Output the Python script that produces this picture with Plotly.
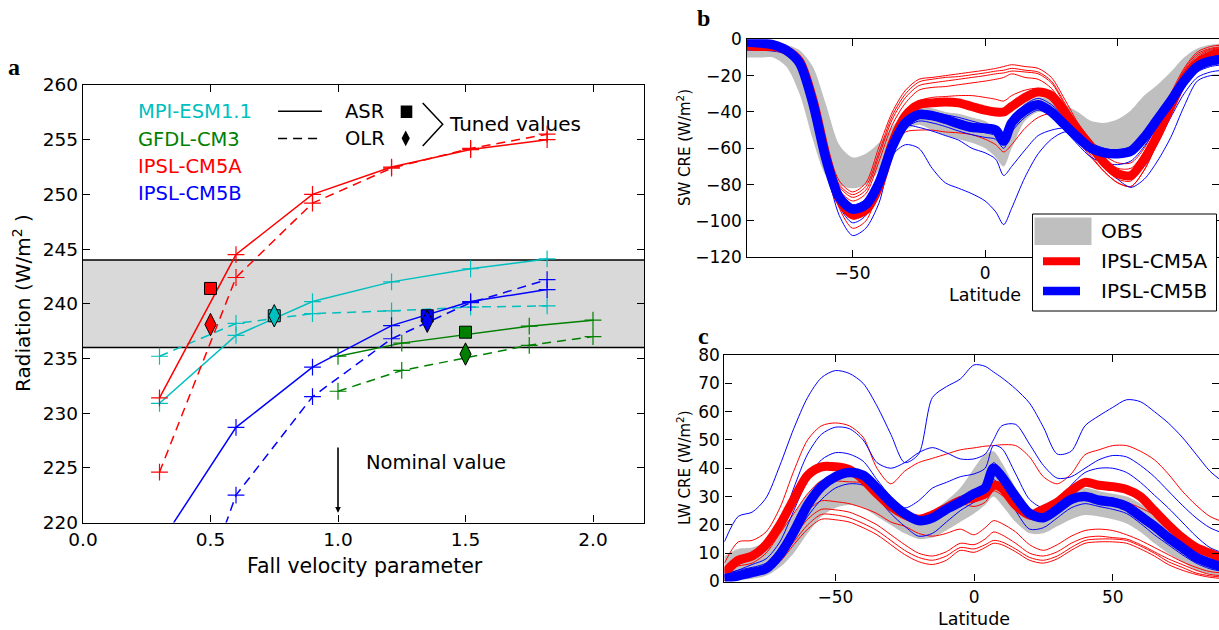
import plotly.graph_objects as go

W, H = 1219, 630
FONT = "DejaVu Sans"
RED, BLUE, CYAN, GREEN = "#ff0000", "#0000ff", "#00bfbf", "#008000"
GREY_B = "#bfbfbf"
GREY_A = "#d9d9d9"

# ---------------- panel a data ----------------
fv_ipsl = [0.3, 0.6, 0.9, 1.21, 1.52, 1.82]
cm5a_asr = [231.4, 244.5, 250.0, 252.5, 254.1, 255.0]
cm5a_olr = [224.6, 242.4, 249.2, 252.4, 254.2, 255.5]
cm5b_asr = [218.0, 228.7, 234.2, 238.0, 240.2, 241.3]
cm5b_olr = [203.0, 222.5, 231.5, 236.8, 240.1, 242.2]
fv_mpi = [0.3, 0.6, 0.9, 1.21, 1.52, 1.82]
mpi_asr = [230.9, 237.1, 240.2, 242.0, 243.2, 244.1]
mpi_olr = [235.2, 238.2, 239.1, 239.35, 239.7, 239.8]
fv_gfdl = [1.0, 1.25, 1.75, 2.0]
gfdl_asr = [235.2, 236.4, 237.95, 238.5]
gfdl_olr = [232.0, 233.9, 236.2, 237.0]

tuned_names = ["MPI-ESM1.1", "GFDL-CM3", "IPSL-CM5A", "IPSL-CM5B"]
tuned_colors = [CYAN, GREEN, RED, BLUE]
tuned_fv = [0.75, 1.5, 0.5, 1.35]
tuned_asr = [238.9, 237.4, 241.4, 238.9]
tuned_olr = [238.9, 235.4, 238.1, 238.4]

band_lo, band_hi = 236.0, 244.0
nominal_fv = 1.0

# ---------------- panels b, c data ----------------
LAT = [-90, -85, -80, -75, -70, -65, -60, -55, -50, -45, -40, -35, -30, -25, -20, -15, -10, -5,
       0, 4, 7, 10, 15, 20, 25, 30, 35, 40, 45, 50, 55, 60, 65, 70, 75, 80, 85, 90]

sw_obs_hi = [0, 0, -1, -3, -6, -15, -36, -58, -65, -63, -57, -48, -41, -37, -38, -40, -41, -43,
             -45, -50, -54, -45, -35, -32, -33, -36, -40, -45, -46, -44, -39, -31, -25, -18, -10, -5, -3, -3]
sw_obs_lo = [-10, -10, -10, -15, -30, -55, -75, -80, -82, -80, -72, -58, -50, -47, -50, -53, -55, -57,
             -60, -65, -70, -60, -45, -40, -42, -48, -53, -58, -62, -62, -60, -52, -42, -32, -23, -15, -12, -12]
sw_cm5a = [-3.5, -4, -4, -6, -12, -33, -64, -88, -96.5, -94, -81, -57, -42, -36, -35, -34.5, -35, -37,
           -39, -40, -40, -37, -32, -29, -31, -40, -50, -59, -68, -74, -75, -66, -53, -37, -22, -13, -9, -7]
sw_cm5b = [-1.5, -2, -3, -6, -13, -35, -66, -87, -93.5, -91, -79, -59, -46, -41.5, -42, -44, -46.5, -48.5,
           -49, -50, -56, -46, -39, -36, -40, -47, -54, -60, -62.5, -63, -61.5, -54, -44, -34, -23, -15, -12, -11]
sw_cm5a_m1 = [-3, -3, -4, -6, -11, -28, -57, -78, -84, -79, -59, -40, -28, -22, -21, -20, -19, -18,
              -17, -16, -15, -14, -15, -16, -21, -33, -46, -56, -64, -68, -68, -60, -46, -30, -16, -7, -4, -3]
sw_cm5a_m2 = [-3.5, -3.5, -4, -6, -12, -30, -59, -80, -85.5, -81, -62, -42, -30, -23.5, -22, -21, -20.5, -19.5,
              -18.5, -17.5, -17, -16, -17, -18, -23, -35, -48, -58, -66, -71, -71, -62, -48, -32, -17, -8, -5, -4]
sw_cm5a_m3 = [-4, -4, -4.5, -7, -13, -31, -60, -81, -87, -83, -64, -44, -32, -25.5, -24, -23, -22, -21,
              -20, -19, -18.5, -17.5, -18, -19, -24, -36, -50, -60, -68, -73, -74, -64, -50, -33, -18, -9, -5.5, -4.5]
sw_cm5a_m4 = [-4, -4.5, -5, -7, -13, -32, -62, -83, -89, -85, -67, -47, -35, -28, -26.5, -26, -25, -24,
              -23, -22, -21, -19, -21, -22, -27, -38, -52, -62, -71, -77, -78, -68, -53, -36, -20, -10, -6, -5]
sw_cm5a_m5 = [-4.5, -5, -5, -7.5, -14, -34, -66, -90, -99, -96, -80, -58, -42, -34, -32, -31.5, -31, -31,
              -32, -33, -34, -31, -28, -27, -30, -40, -53, -64, -73, -79, -81, -72, -56, -38, -22, -12, -7, -6]
sw_cm5a_m6 = [-5, -5, -5.5, -8, -15, -36, -68, -93, -104, -100, -82, -60, -51, -50, -50, -51, -51.5, -52.5,
              -55, -58, -62, -58, -49, -43, -41, -47, -56, -65, -73, -79, -81, -72, -57, -40, -24, -13, -8, -7]
sw_cm5b_m1 = [-6, -6, -6.5, -8, -14, -36, -70, -97, -108, -104, -90, -64, -58, -60, -71, -79, -82, -85,
              -89, -95, -102, -93, -76, -63, -55, -51, -52.5, -59, -68.5, -77, -81.5, -77, -67, -54, -37, -23, -20, -20]
sw_cm5b_m2 = [-5, -5, -5.5, -7.5, -13, -34, -67, -92, -101, -97, -80, -57, -47.5, -48.5, -50.5, -53, -55.5, -60,
              -62.5, -66, -75, -70, -61, -53, -50, -49, -54, -62, -70, -75, -76, -70, -57, -43, -30, -21, -18, -17]
sw_cm5b_m3 = [-3, -3, -4, -6, -12, -33, -63, -84, -91, -88, -74, -53, -42, -39, -40, -41.5, -43, -45,
              -47, -49, -53, -44, -36, -32.5, -36, -43, -51, -57, -60, -61, -59, -52, -42, -32, -22, -16, -14, -13]
sw_cm5b_m4 = [-4, -4, -4.5, -6.5, -13, -35, -67, -90, -96, -94, -82, -62, -49, -45, -46, -48, -50.5, -52.5,
              -54, -55, -60, -51, -43, -39, -42, -50, -58, -65, -68, -69, -67, -59, -48, -37, -26, -18, -15, -14]
sw_cm5b_m5 = [-2, -2.5, -3.5, -6, -12, -33, -64, -86, -98, -96, -84, -63, -48, -43, -44, -46, -48, -50,
              -51.5, -53, -58, -48, -40, -37, -41, -48, -55, -61, -64, -65, -63, -56, -46, -35, -24, -17, -14, -13]

lw_obs_hi = [9, 11.5, 12, 14, 18, 24, 31, 36, 37, 37.5, 36, 32, 28, 25, 23, 25, 28.5, 33,
             40, 45, 46, 42, 33, 26, 25, 28, 31, 33, 32, 31, 30, 27.5, 24, 20, 16, 12, 10, 9]
lw_obs_lo = [0, 0.5, 1, 2, 5, 10, 17, 23, 26, 27, 26, 23, 20, 17, 15, 15.5, 18, 21,
             24, 27, 30, 27, 21, 17, 17, 19.5, 22, 23.5, 23, 22, 20.5, 17.5, 13.5, 10, 7, 4, 2.5, 2]
lw_cm5a = [3, 7.5, 9, 13, 20, 29, 37.5, 40.5, 40.5, 39.5, 36, 31, 26.5, 23.5, 22, 23.5, 26, 28.5,
           29.5, 31, 34, 33, 27, 23.5, 25.5, 28, 32, 35, 34, 33.5, 32.5, 30, 25, 20, 15.5, 12, 10, 8]
lw_cm5b = [1, 2, 3.2, 4.5, 9.5, 17.5, 27, 33.5, 37, 38.5, 37.5, 33, 28, 24, 21.5, 22.5, 25.5, 28,
           31, 33, 40, 37, 30, 24, 22.5, 25.5, 29, 30, 28.7, 28, 26.5, 23, 19.5, 15.5, 12, 8.5, 6.5, 5]
lw_cm5a_m1 = [6.5, 14, 14.5, 17.5, 26, 39, 50, 55, 56, 55, 51, 40, 34.5, 39, 42, 43.5, 45, 46.5,
              47.2, 47.8, 48, 48.3, 48, 44, 37, 34.5, 38, 44.8, 46.5, 48, 48, 46, 43, 38, 32, 27, 23, 21]
lw_cm5a_m2 = [4, 5.5, 6.5, 10, 17, 24, 31, 35.5, 35.5, 35.2, 34.8, 31.5, 27.5, 24.5, 22.8, 23, 25.5, 27.5,
              26.5, 28, 32, 30.5, 25.5, 22, 22, 24, 27.5, 29.5, 30, 29, 28, 26, 23.5, 20, 17, 13.5, 10.5, 9]
lw_cm5a_m3 = [1.5, 3, 4, 6, 11, 18, 25, 28.5, 28.2, 27.5, 26, 24, 21, 19.5, 17, 16, 17, 18.5,
              16.5, 19, 21.5, 20.5, 17.5, 13, 11, 13, 16, 18, 18.5, 18, 16.5, 14.5, 12, 9.5, 7, 5, 3.5, 3]
lw_cm5a_m4 = [1, 2.5, 3, 5, 9, 15.5, 22, 25.5, 25.3, 24.5, 22.5, 20, 16.5, 13, 10, 9, 10.5, 13.5,
              13, 15, 17.5, 16.5, 13.5, 10, 9, 10.5, 13.5, 15.5, 16, 15.5, 15, 13, 10.5, 8, 6, 4, 2.5, 2]
lw_cm5a_m5 = [0.5, 2, 2.5, 4, 8, 14, 20, 23.7, 23.5, 22.5, 20.5, 18, 14.5, 11, 8.5, 7.5, 9, 12,
              11.5, 13, 14.5, 14, 11.5, 8.5, 7.5, 9, 12, 14.5, 15, 15, 14.5, 12.5, 10, 7, 5, 3, 2, 1.5]
lw_cm5a_m6 = [0.3, 1.5, 2, 3.5, 7, 13, 18.5, 22, 21.8, 21, 19, 16.5, 13, 9.5, 7, 6, 7.5, 11,
              10.3, 12, 13.5, 13, 10.5, 7.5, 6.5, 8, 11, 13.5, 14, 14, 13.5, 11.5, 9, 6, 4, 2.5, 1.5, 1]
lw_cm5b_m1 = [14, 23, 24.5, 29.5, 41, 54, 65, 72, 74.5, 73.5, 70, 62, 52, 42, 45, 65, 68.8, 71.5,
              76.5, 76, 74, 72, 68, 63, 54.5, 45, 46, 55, 58.5, 61.5, 64.2, 63.5, 60, 56, 51, 45, 39, 35]
lw_cm5b_m2 = [3, 6, 8, 11, 19, 33, 45, 52, 54.5, 54, 50, 42, 40, 42, 45.5, 47.3, 45.5, 43.3,
              43.3, 45, 50, 55, 55.5, 48.5, 41, 36.5, 37, 40, 43, 44.5, 44, 41, 37, 32, 27, 22.5, 19, 17]
lw_cm5b_m3 = [2, 4, 6, 8, 14, 25, 36, 43, 45.5, 45, 42.5, 36, 30, 26, 28.5, 33, 35, 37,
              38, 40, 48, 47, 38, 29, 26, 28, 34, 38.5, 40, 40, 38.5, 35, 30.5, 26, 21, 16, 12, 10]
lw_cm5b_m4 = [2.5, 4, 5, 6.5, 12, 20, 28, 34, 38, 39.5, 38.5, 34, 29, 25.5, 23, 24, 27.5, 30,
              32, 35, 42, 39, 31, 25, 23.5, 26, 29.5, 31, 30, 29.5, 28, 25, 21, 17, 13.5, 10, 8, 7]
lw_cm5b_m5 = [0.5, 1, 2, 3.5, 8, 15, 23, 29, 33, 34.5, 34, 29.5, 24, 19.5, 16, 17, 21, 25,
              28, 30.5, 36, 33, 25, 18.5, 19, 22.5, 26, 27.5, 26.5, 25.5, 24, 20.5, 16.5, 13, 9.5, 6.5, 4.5, 3.5]

sw_red_thin = [sw_cm5a_m1, sw_cm5a_m2, sw_cm5a_m3, sw_cm5a_m4, sw_cm5a_m5, sw_cm5a_m6]
sw_blue_thin = [sw_cm5b_m1, sw_cm5b_m2, sw_cm5b_m3, sw_cm5b_m4, sw_cm5b_m5]
lw_red_thin = [lw_cm5a_m1, lw_cm5a_m2, lw_cm5a_m3, lw_cm5a_m4, lw_cm5a_m5, lw_cm5a_m6]
lw_blue_thin = [lw_cm5b_m1, lw_cm5b_m2, lw_cm5b_m3, lw_cm5b_m4, lw_cm5b_m5]


def X(px):
    return px / W


def Y(py):
    return 1 - py / H


fig = go.Figure()

# ---------------- panel a traces ----------------
def a_line(x, y, color, dash):
    fig.add_trace(go.Scatter(
        x=x, y=y, mode="lines+markers", xaxis="x", yaxis="y",
        line=dict(color=color, width=1.5, dash=dash),
        marker=dict(symbol="cross-thin", size=12, line=dict(color=color, width=1.2)),
        showlegend=False, hoverinfo="skip"))


DASH = "9px,6px"
a_line(fv_mpi, mpi_asr, CYAN, "solid")
a_line(fv_mpi, mpi_olr, CYAN, DASH)
a_line(fv_gfdl, gfdl_asr, GREEN, "solid")
a_line(fv_gfdl, gfdl_olr, GREEN, DASH)
a_line(fv_ipsl, cm5a_asr, RED, "solid")
a_line(fv_ipsl, cm5a_olr, RED, DASH)
a_line(fv_ipsl, cm5b_asr, BLUE, "solid")
a_line(fv_ipsl, cm5b_olr, BLUE, DASH)

for fv, asr, olr, col in zip(tuned_fv, tuned_asr, tuned_olr, tuned_colors):
    fig.add_trace(go.Scatter(x=[fv], y=[asr], mode="markers", xaxis="x", yaxis="y",
                             marker=dict(symbol="square", size=12, color=col,
                                         line=dict(color="black", width=1)),
                             showlegend=False, hoverinfo="skip"))
    fig.add_trace(go.Scatter(x=[fv], y=[olr], mode="markers", xaxis="x", yaxis="y",
                             marker=dict(symbol="diamond-tall", size=16, color=col,
                                         line=dict(color="black", width=1)),
                             showlegend=False, hoverinfo="skip"))


# ---------------- panels b, c traces ----------------
def band(lo, hi, xa, ya):
    fig.add_trace(go.Scatter(
        x=LAT + LAT[::-1], y=hi + lo[::-1], mode="lines", fill="toself",
        fillcolor=GREY_B, line=dict(width=0, color=GREY_B, shape="spline", smoothing=0.8),
        xaxis=xa, yaxis=ya, showlegend=False, hoverinfo="skip"))


def curve(y, color, width, xa, ya):
    fig.add_trace(go.Scatter(
        x=LAT, y=y, mode="lines",
        line=dict(color=color, width=width, shape="spline", smoothing=0.8),
        xaxis=xa, yaxis=ya, showlegend=False, hoverinfo="skip"))


band(sw_obs_lo, sw_obs_hi, "x2", "y2")
for arr in sw_red_thin:
    curve(arr, RED, 1.0, "x2", "y2")
for arr in sw_blue_thin:
    curve(arr, BLUE, 1.0, "x2", "y2")
curve(sw_cm5a, RED, 9, "x2", "y2")
curve(sw_cm5b, BLUE, 9.5, "x2", "y2")

band(lw_obs_lo, lw_obs_hi, "x3", "y3")
for arr in lw_red_thin:
    curve(arr, RED, 1.0, "x3", "y3")
for arr in lw_blue_thin:
    curve(arr, BLUE, 1.0, "x3", "y3")
curve(lw_cm5a, RED, 9, "x3", "y3")
curve(lw_cm5b, BLUE, 9.5, "x3", "y3")

# ---------------- layout ----------------
ax = dict(showline=True, linecolor="black", linewidth=1.3, mirror="allticks",
          ticks="inside", ticklen=7, tickwidth=1.2, tickcolor="black",
          showgrid=False, zeroline=False)
tf_a = dict(family=FONT, size=18.5, color="black")
tf_b = dict(family=FONT, size=17, color="black")

fig.update_layout(
    width=W, height=H, template="none",
    margin=dict(l=0, r=0, t=0, b=0),
    paper_bgcolor="white", plot_bgcolor="white", showlegend=False,
    xaxis=dict(domain=[X(83), X(644)], range=[0, 2.2], anchor="y",
               tickvals=[0, 0.5, 1.0, 1.5, 2.0], ticktext=["0.0", "0.5", "1.0", "1.5", "2.0"],
               tickfont=tf_a, **ax),
    yaxis=dict(domain=[Y(522.5), Y(85)], range=[220, 260], anchor="x",
               tickvals=[220, 225, 230, 235, 240, 245, 250, 255, 260], tickfont=tf_a, **ax),
    xaxis2=dict(domain=[X(746.5), 1.0], range=[-90, 88.2], anchor="y2",
                tickvals=[-50, 0, 50], ticktext=["\u221250", "0", "50"], tickfont=tf_b, **ax),
    yaxis2=dict(domain=[Y(257.3), Y(39.3)], range=[-120, 0], anchor="x2",
                tickvals=[-120, -100, -80, -60, -40, -20, 0],
                ticktext=["\u2212120", "\u2212100", "\u221280", "\u221260", "\u221240", "\u221220", "0"],
                tickfont=tf_b, **ax),
    xaxis3=dict(domain=[X(724.4), 1.0], range=[-90, 88.3], anchor="y3",
                tickvals=[-50, 0, 50], ticktext=["\u221250", "0", "50"], tickfont=tf_b, **ax),
    yaxis3=dict(domain=[Y(581.5), Y(355)], range=[0, 80], anchor="x3",
                tickvals=[0, 10, 20, 30, 40, 50, 60, 70, 80], tickfont=tf_b, **ax),
)

shapes = []
# grey band panel a
shapes.append(dict(type="rect", xref="x", yref="y", x0=0, x1=2.2, y0=band_lo, y1=band_hi,
                   fillcolor=GREY_A, line=dict(width=0), layer="below"))
for yv in (band_lo, band_hi):
    shapes.append(dict(type="line", xref="x", yref="y", x0=0, x1=2.2, y0=yv, y1=yv,
                       line=dict(color="black", width=1.5), layer="below"))
# legend keys panel a
shapes.append(dict(type="line", xref="x", yref="y", x0=0.765, x1=0.937, y0=257.6, y1=257.6,
                   line=dict(color="black", width=1.5)))
shapes.append(dict(type="line", xref="x", yref="y", x0=0.765, x1=0.937, y0=255.1, y1=255.1,
                   line=dict(color="black", width=1.5, dash=DASH)))
shapes.append(dict(type="rect", xref="paper", yref="paper", x0=X(400.7), x1=X(412.3),
                   y0=Y(118), y1=Y(105.5), fillcolor="black", line=dict(width=0)))
shapes.append(dict(type="path", xref="paper", yref="paper",
                   path=f"M {X(405.7)},{Y(130.5)} L {X(409.8)},{Y(138.3)} L {X(405.7)},{Y(146.3)} L {X(401.6)},{Y(138.3)} Z",
                   fillcolor="black", line=dict(width=0)))
shapes.append(dict(type="path", xref="paper", yref="paper",
                   path=f"M {X(422.7)},{Y(103)} L {X(442.7)},{Y(124.3)} L {X(422.7)},{Y(146)}",
                   line=dict(color="black", width=1.5)))
# legend panel b
shapes.append(dict(type="rect", xref="paper", yref="paper", x0=X(1032.5), x1=X(1216.5),
                   y0=Y(311), y1=Y(214), fillcolor="white", line=dict(color="black", width=1),
                   layer="above"))
shapes.append(dict(type="rect", xref="paper", yref="paper", x0=X(1034.5), x1=X(1091.5),
                   y0=Y(245), y1=Y(217.5), fillcolor=GREY_B, line=dict(width=0), layer="above"))
shapes.append(dict(type="line", xref="paper", yref="paper", x0=X(1043), x1=X(1080),
                   y0=Y(261.3), y1=Y(261.3), line=dict(color=RED, width=8), layer="above"))
shapes.append(dict(type="line", xref="paper", yref="paper", x0=X(1043), x1=X(1080),
                   y0=Y(291), y1=Y(291), line=dict(color=BLUE, width=8.5), layer="above"))
fig.update_layout(shapes=shapes)

ann = []


def txt(text, x, y, size, color="black", xref="paper", yref="paper", xanchor="left",
        yanchor="middle", angle=0, family=FONT):
    ann.append(dict(text=text, x=x, y=y, xref=xref, yref=yref, xanchor=xanchor,
                    yanchor=yanchor, showarrow=False, textangle=angle,
                    font=dict(family=family, size=size, color=color)))


leg_y = [257.56, 255.06, 252.58, 250.08]
for name, col, yv in zip(tuned_names, tuned_colors, leg_y):
    txt(name, 0.206, yv, 19.5, col, "x", "y")
txt("ASR", 1.018, 257.6, 19.5, "black", "x", "y")
txt("OLR", 1.018, 255.1, 19.5, "black", "x", "y")
txt("Tuned values", 1.427, 256.4, 20, "black", "x", "y")
txt("Nominal value", 1.103, 225.5, 19.5, "black", "x", "y")
ann.append(dict(x=nominal_fv, y=220.9, ax=nominal_fv, ay=227.0, xref="x", yref="y",
                axref="x", ayref="y", text="", showarrow=True, arrowhead=2,
                arrowsize=0.7, arrowwidth=1.6, arrowcolor="black"))

txt("Fall velocity parameter", X(365), Y(566), 20.5, xanchor="center")
txt("Radiation (W/m<sup>2</sup> )", X(22), Y(303), 20, xanchor="center", angle=-90)
txt("SW CRE (W/m<sup>2</sup>)", X(684), Y(148), 15, xanchor="center", angle=-90)
txt("Latitude", X(985), Y(295), 17.5, xanchor="center")
txt("LW CRE (W/m<sup>2</sup>)", X(684), Y(468), 15, xanchor="center", angle=-90)
txt("Latitude", X(974), Y(619), 17.5, xanchor="center")

txt("OBS", X(1099), Y(231), 20)
txt("IPSL-CM5A", X(1099), Y(261.3), 20)
txt("IPSL-CM5B", X(1099), Y(291), 20)

txt("<b>a</b>", X(14), Y(67), 24, xanchor="center", family="Liberation Serif")
txt("<b>b</b>", X(703), Y(18), 24, xanchor="center", family="Liberation Serif")
txt("<b>c</b>", X(703), Y(336), 24, xanchor="center", family="Liberation Serif")

fig.update_layout(annotations=ann)

fig.write_html("out.html", config={"displayModeBar": False},
               post_script="document.body.style.margin='0px';document.body.style.overflow='hidden';")
